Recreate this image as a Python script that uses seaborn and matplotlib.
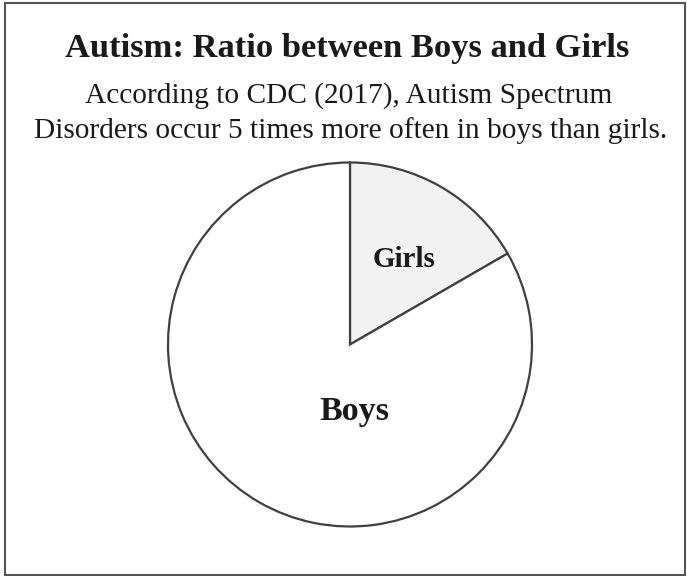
import matplotlib
matplotlib.use("Agg")
import matplotlib.pyplot as plt
import seaborn as sns
from matplotlib.patches import Rectangle

categories = ["Girls", "Boys"]
values = [1, 5]
colors = ["#f2f2f2", "#ffffff"]
title = "Autism: Ratio between Boys and Girls"
subtitle_lines = ["According to CDC (2017), Autism Spectrum",
                  "Disorders occur 5 times more often in boys than girls."]

sns.set_theme(style="white")
plt.rcParams["font.family"] = ["Liberation Serif", "DejaVu Serif"]

fig = plt.figure(figsize=(6.87, 5.76), dpi=100)
fig.patch.set_facecolor("white")
W, H = 687, 576
cx, cy, r = 350, 344.5, 183
ax = fig.add_axes([(cx - r) / W, (H - cy - r) / H, 2 * r / W, 2 * r / H])
wedges, texts = ax.pie(values, colors=colors, startangle=90, counterclock=False,
                       radius=182 / 183,
                       wedgeprops=dict(edgecolor="#404040", linewidth=1.6))
ax.set_xlim(-1, 1)
ax.set_ylim(-1, 1)
ax.set_aspect("equal")
ax.axis("off")

def px(x, y):
    return x / W, 1 - y / H

fig.text(*px(404, 267), categories[0], ha="center", va="baseline", fontsize=21,
         fontweight="bold", color="#1a1a1a")
fig.text(*px(354, 420), categories[1], ha="center", va="baseline", fontsize=24.5,
         fontweight="bold", color="#1a1a1a")

fig.text(*px(347.5, 57), title, ha="center", va="baseline", fontsize=24.8,
         fontweight="bold", color="#1a1a1a")
fig.text(*px(349, 103), subtitle_lines[0], ha="center", va="baseline", fontsize=21.2,
         color="#1a1a1a")
fig.text(*px(351, 138), subtitle_lines[1], ha="center", va="baseline", fontsize=21.2,
         color="#1a1a1a")

fig.patches.append(Rectangle((5 / W, 1 / H), 680 / W, 572 / H, transform=fig.transFigure,
                             fill=False, edgecolor="#555555", linewidth=1.5))

fig.savefig("out.png", dpi=100, facecolor="white")
